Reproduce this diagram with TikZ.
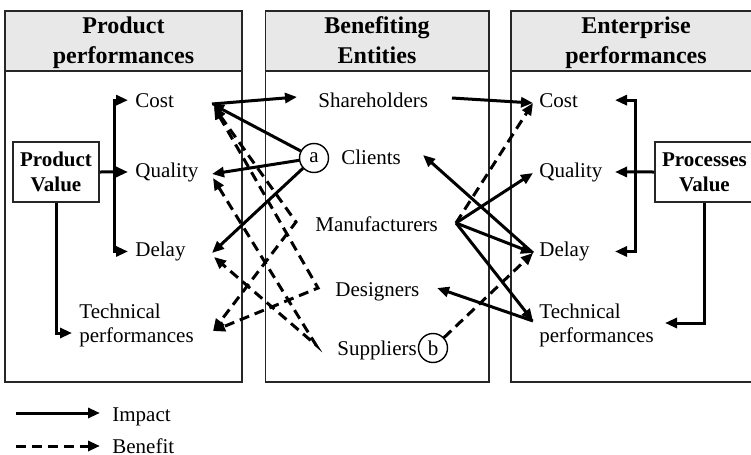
\documentclass[tikz,border=0pt]{standalone}
\usepackage{fontspec}
\setmainfont{Liberation Serif}
\usetikzlibrary{arrows.meta}
\begin{document}
\begin{tikzpicture}[x=0.5pt,y=-0.5pt,
  >={Triangle[length=6pt,width=5pt]},
  panel/.style={draw=black!85,line width=0.8pt},
  hdrfill/.style={fill=black!9,draw=black!85,line width=0.8pt},
  hdrtext/.style={font=\bfseries\fontsize{12pt}{15pt}\selectfont,align=center,inner sep=0pt,anchor=base},
  lbl/.style={font=\fontsize{10.5pt}{12pt}\selectfont,inner sep=0pt,anchor=base west,align=left},
  vbox/.style={draw=black!85,line width=0.8pt,font=\bfseries\fontsize{10.5pt}{12.5pt}\selectfont,align=center,inner sep=0pt},
  circ/.style={draw,circle,line width=0.7pt,minimum size=14.5pt,inner sep=0pt,font=\fontsize{10.5pt}{12pt}\selectfont},
  conn/.style={line width=1.5pt,->},
  dconn/.style={line width=1.5pt,dash pattern=on 5pt off 3pt},
]
\useasboundingbox (0,0) rectangle (751,455);

% panels
\fill[hdrfill] (5,11) rectangle (242,71);
\draw[panel] (5,11) rectangle (242,382);
\fill[hdrfill] (265.5,11) rectangle (489,71);
\draw[panel] (265.5,11) rectangle (489,382);
\fill[hdrfill] (511,11) rectangle (762,71);
\draw[panel] (511,11) rectangle (762,382);

\node[hdrtext] (hL) at (123.5,63) {Product\\performances};
\node[hdrtext] (hM) at (377,63) {Benefiting\\Entities};
\node[hdrtext] (hR) at (636,63) {Enterprise\\performances};

% left panel
\node[lbl] (LCost) at (135,107) {Cost};
\node[lbl] (LQual) at (135,177) {Quality};
\node[lbl] (LDelay) at (135,256.5) {Delay};
\node[lbl] (LTech) at (79,342) {Technical\\performances};
\node[vbox,minimum width=43pt,minimum height=30pt] (PV) at (56,172) {Product\\Value};

% middle panel
\node[lbl] (Sh) at (318,107) {Shareholders};
\node[lbl] (Cl) at (341,164) {Clients};
\node[lbl] (Ma) at (315,231) {Manufacturers};
\node[lbl] (De) at (335,296) {Designers};
\node[lbl] (Su) at (337,355) {Suppliers};
\node[circ] (ca) at (314,158) {a};
\node[circ] (cb) at (433,348) {b};

% right panel
\node[lbl] (RCost) at (539,107) {Cost};
\node[lbl] (RQual) at (539,177) {Quality};
\node[lbl] (RDelay) at (539,256.5) {Delay};
\node[lbl] (RTech) at (539,342) {Technical\\performances};
\node[vbox,minimum width=49.5pt,minimum height=30pt] (PrV) at (704.5,172) {Processes\\Value};

% brackets
\coordinate (LSp) at (114,0);
\coordinate (LTechIn) at (72,333);
\draw[conn,<->] ([xshift=-3.5pt]LCost.west) -- (LCost.west -| LSp) -- (LDelay.west -| LSp) -- ([xshift=-3.5pt]LDelay.west);
\draw[conn] (PV.east) -- ([xshift=-3.5pt]LQual.west);
\draw[conn] (PV.south) |- (LTechIn);

\coordinate (RSp) at (635,0);
\coordinate (RTip) at (615,0);
\coordinate (RTechIn) at (665,323);
\draw[conn,<->] (RCost.west -| RTip) -- (RCost.west -| RSp) -- (RDelay.west -| RSp) -- (RDelay.west -| RTip);
\draw[conn] (PrV.west) -- (RQual.west -| RTip);
\draw[conn] (PrV.south) |- (RTechIn);

% ports
\coordinate (LCostP) at (212,104);
\coordinate (LQualP) at (212,174);
\coordinate (LDelayP) at (212,253);
\coordinate (LCostD) at (214,107);
\coordinate (LQualD) at (213,178);
\coordinate (LDelayD) at (214,257);
\coordinate (LTechP) at (213,331);
\coordinate (ShIn) at (297,97);
\coordinate (ShOut) at (452,98);
\coordinate (ClIn) at (423,155);
\coordinate (MaL) at (296,222);
\coordinate (MaR) at (456,223);
\coordinate (DeL) at (318,288);
\coordinate (DeR) at (437,288);
\coordinate (SuL) at (316,345);
\coordinate (RCostP) at (533,103);
\coordinate (RQualP) at (533,173);
\coordinate (RDelayP) at (533,253);
\coordinate (RTechP) at (533,321);

% dashed (benefit)
\draw[dconn,<->] (LCostD) -- (MaL) -- (LTechP);
\draw[dconn,<->] (LCostD) -- (DeL) -- (LTechP);
\draw[dconn,<->] (LQualD) -- (SuL) -- (LDelayD);
\draw[dconn,->] (MaR) -- (RCostP);
\draw[dconn,->] (cb) -- (RDelayP);

% solid (impact)
\draw[conn] (LCostP) -- (ShIn);
\draw[conn] (ca) -- (LCostP);
\draw[conn] (ca) -- (LQualP);
\draw[conn] (ca) -- (LDelayP);
\draw[conn] (ShOut) -- (RCostP);
\draw[conn] (RDelayP) -- (ClIn);
\draw[conn] (MaR) -- (RQualP);
\draw[conn] (MaR) -- (RDelayP);
\draw[conn] (MaR) -- (RTechP);
\draw[conn] (RTechP) -- (DeR);

% legend
\coordinate (lg1s) at (16,413);
\coordinate (lg1e) at (100,413);
\coordinate (lg2s) at (16,446);
\coordinate (lg2e) at (100,446);
\draw[conn] (lg1s) -- (lg1e);
\draw[dconn,->] (lg2s) -- (lg2e);
\node[lbl] (lgI) at (112,421) {Impact};
\node[lbl] (lgB) at (112,453) {Benefit};
\end{tikzpicture}
\end{document}
